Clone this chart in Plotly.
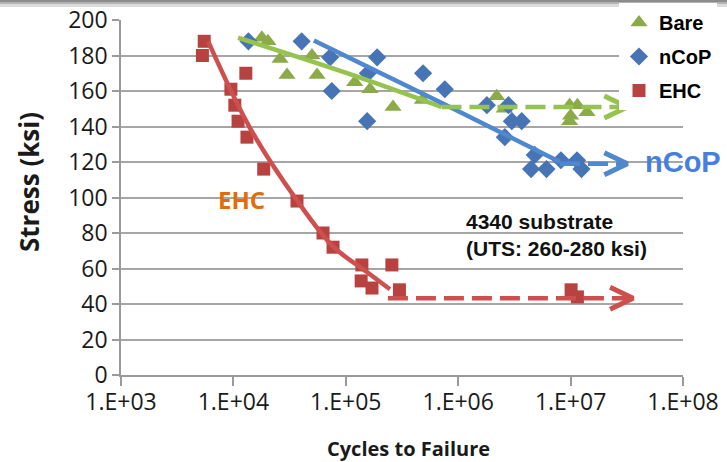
import numpy as np
import plotly.graph_objects as go

# ---------------- data ----------------
bare_cycles = [1.79e4, 2.03e4, 2.6e4, 3.0e4, 5.0e4, 5.55e4, 1.2e5, 1.64e5, 2.63e5, 4.8e5,
               2.2e6, 2.57e6, 9.8e6, 1.15e7, 1.0e7, 9.8e6, 1.4e7]
bare_stress = [190, 188, 178, 169, 180, 169, 165, 161, 151, 155,
               157, 150, 152, 152, 146, 143, 148]

ncop_cycles = [1.36e4, 4.05e4, 7.25e4, 7.5e4, 1.9e5, 1.57e5, 1.55e5, 4.87e5, 7.6e5, 1.8e6,
               2.8e6, 3.0e6, 3.67e6, 2.6e6, 4.8e6, 4.45e6, 6.1e6, 8.2e6, 1.14e7, 1.25e7]
ncop_stress = [188, 188, 179, 160, 179, 170, 143, 170, 161, 152,
               152, 143, 143, 134, 124, 116, 116, 121, 121, 116]

ehc_cycles = [5.5e3, 5.3e3, 9.5e3, 1.03e4, 1.1e4, 1.29e4, 1.32e4, 1.86e4, 3.68e4, 6.27e4,
              7.7e4, 1.39e5, 1.37e5, 1.71e5, 2.57e5, 3.0e5, 1.01e7, 1.15e7]
ehc_stress = [188, 180, 161, 152, 143, 170, 134, 116, 98, 80,
              72, 62, 53, 49, 62, 48, 48, 44]

# trend curves as drawn in the picture
bare_trend_cycles = [1.1e4, 1.09e5, 7.1e5]
bare_trend_stress = [190, 169.5, 151]
ncop_trend_cycles = [5.2e4, 7.3e5, 8.05e6]
ncop_trend_stress = [188.5, 153, 120]
ehc_trend_cycles = [5.98e3, 1.41e4, 3.66e4, 7.74e4, 1.53e5, 2.47e5]
ehc_trend_stress = [187.8, 139, 98.6, 72.3, 58.2, 48.3]

# run-out (dashed arrow) lines
bare_runout_cycles = [7.1e5, 3.2e7]
bare_runout_stress = [151, 151]
ncop_runout_cycles = [8.05e6, 3.2e7]
ncop_runout_stress = [119, 119]
ehc_runout_cycles = [2.37e5, 3.6e7]
ehc_runout_stress = [43.3, 43.3]

x_tick_vals = [1e3, 1e4, 1e5, 1e6, 1e7, 1e8]
x_tick_text = ["1.E+03", "1.E+04", "1.E+05", "1.E+06", "1.E+07", "1.E+08"]
y_tick_vals = [0, 20, 40, 60, 80, 100, 120, 140, 160, 180, 200]

# ---------------- styles ----------------
GREEN_M, GREEN_L = "#8AAB47", "#96C350"
BLUE_M, BLUE_L = "#4674B4", "#4F88CC"
RED_M, RED_L = "#B8423F", "#CD504E"
TICK_FONT = dict(family="Open Sans", size=23, color="#1a1a1a")

ARROW_BACK_DEC = 0.205   # chevron arm length (decades)
ARROW_HALF = 6.2         # chevron half height (ksi)

fig = go.Figure()

fig.add_trace(go.Scatter(x=bare_cycles, y=bare_stress, mode="markers", name="<b>Bare</b>",
                         legendgroup="a",
                         marker=dict(symbol="triangle-up", size=15, color=GREEN_M)))
fig.add_trace(go.Scatter(x=ncop_cycles, y=ncop_stress, mode="markers", name="<b>nCoP</b>",
                         legendgroup="b",
                         marker=dict(symbol="diamond", size=14, color=BLUE_M)))
fig.add_trace(go.Scatter(x=ehc_cycles, y=ehc_stress, mode="markers", name="<b>EHC</b>",
                         legendgroup="c",
                         marker=dict(symbol="square", size=13, color=RED_M)))

def add_line(xs, ys, color, dash=None, shape="linear"):
    fig.add_trace(go.Scatter(x=xs, y=ys, mode="lines", showlegend=False, hoverinfo="skip",
                             line=dict(color=color, width=4.5, dash=dash, shape=shape)))

add_line(bare_trend_cycles, bare_trend_stress, GREEN_L, shape="spline")
add_line(ncop_trend_cycles, ncop_trend_stress, BLUE_L, shape="spline")
add_line(ehc_trend_cycles, ehc_trend_stress, RED_L, shape="spline")

for cx, sy, col in [(bare_runout_cycles, bare_runout_stress, GREEN_L),
                    (ncop_runout_cycles, ncop_runout_stress, BLUE_L),
                    (ehc_runout_cycles, ehc_runout_stress, RED_L)]:
    add_line(cx, sy, col, dash="20px,8px")
    tip_x, tip_y = cx[-1], sy[-1]
    back = tip_x / 10 ** ARROW_BACK_DEC
    fig.add_trace(go.Scatter(x=[back, tip_x, back],
                             y=[tip_y + ARROW_HALF, tip_y, tip_y - ARROW_HALF],
                             mode="lines", showlegend=False, hoverinfo="skip",
                             line=dict(color=col, width=5)))

fig.update_xaxes(type="log", range=[3, 8], tickvals=x_tick_vals, ticktext=x_tick_text,
                 showgrid=False, zeroline=False, showline=True, linecolor="#9a9a9a",
                 linewidth=1.5, ticks="outside", ticklen=9, tickcolor="#9a9a9a",
                 tickwidth=1.5, tickfont=TICK_FONT, automargin=False,
                 ticklabelstandoff=-3)
fig.update_yaxes(range=[0, 200], tickvals=y_tick_vals, showgrid=True, gridcolor="#a6a6a6",
                 gridwidth=1.5, zeroline=False, showline=True, linecolor="#9a9a9a",
                 linewidth=1.5, ticks="outside", ticklen=7, tickcolor="#9a9a9a",
                 tickwidth=1.5, tickfont=TICK_FONT, automargin=False)

annotations = [
    dict(text="<b>EHC</b>", x=np.log10(1.19e4), y=98.6, xref="x", yref="y", showarrow=False,
         font=dict(family="Open Sans", size=24, color="#E36C0A")),
    dict(text="<b>nCoP</b>", x=7.644, y=120, xref="x", yref="y", showarrow=False,
         xanchor="left", font=dict(family="Liberation Sans", size=29, color="#467FDF")),
    dict(text="<b>4340 substrate<br>(UTS: 260-280 ksi)</b>", x=6.05, y=78.9, xref="x",
         yref="y", showarrow=False, xanchor="left", align="left",
         font=dict(family="Liberation Sans", size=21, color="#111111")),
    dict(text="<b>Stress (ksi)</b>", x=(29 - 121) / 562, y=(375 - 182) / 355, xref="paper",
         yref="paper", showarrow=False, textangle=-90, xanchor="center", yanchor="middle",
         font=dict(family="Open Sans", size=26, color="#1a1a1a")),
    dict(text="<b>Cycles to Failure</b>", x=(408 - 121) / 562, y=(375 - 448) / 355,
         xref="paper", yref="paper", showarrow=False, xanchor="center", yanchor="middle",
         font=dict(family="Open Sans", size=20, color="#1a1a1a")),
]

shapes = []
for (p0, p1, c) in [(0, 2, "#8c8c8c"), (2, 4, "#b3b3b3"), (4, 7, "#dcdcdc")]:
    shapes.append(dict(type="rect", xref="paper", yref="paper", x0=-0.3, x1=1.2,
                       y0=1 + (20 - p1) / 355, y1=1 + (20 - p0) / 355,
                       fillcolor=c, line=dict(width=0), layer="above"))

fig.update_layout(
    width=727, height=462, margin=dict(l=121, r=44, t=20, b=87, autoexpand=False),
    paper_bgcolor="white", plot_bgcolor="rgba(0,0,0,0)",
    legend=dict(x=(619 - 121) / 562, y=1 + 17 / 355, xanchor="left", yanchor="top",
                bgcolor="white", tracegroupgap=5,
                font=dict(family="Liberation Sans", size=20, color="#000000")),
    annotations=annotations, shapes=shapes,
)

fig.write_html("out.html", config={"displayModeBar": False},
               post_script="document.body.style.margin='0';")
